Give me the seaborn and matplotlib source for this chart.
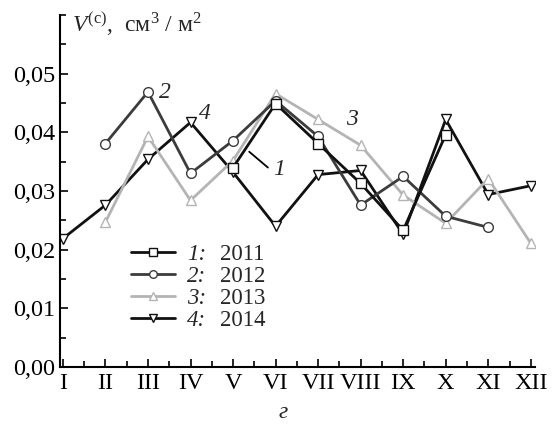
import numpy as np
import pandas as pd
import seaborn as sns
import matplotlib
matplotlib.use("Agg")
import matplotlib.pyplot as plt
from matplotlib.lines import Line2D
from matplotlib.ticker import FixedLocator, MultipleLocator, FuncFormatter

# month labels
months = ["I", "II", "III", "IV", "V", "VI", "VII", "VIII", "IX", "X", "XI", "XII"]

# series values (month number -> value)
m_2011 = [5, 6, 7, 8, 9, 10]
v_2011 = [0.0340, 0.0449, 0.0381, 0.0313, 0.0233, 0.0396]

m_2012 = [2, 3, 4, 5, 6, 7, 8, 9, 10, 11]
v_2012 = [0.0381, 0.0469, 0.0330, 0.0386, 0.0454, 0.0393, 0.0276, 0.0325, 0.0257, 0.0238]

m_2013 = [2, 3, 4, 5, 6, 7, 8, 9, 10, 11, 12]
v_2013 = [0.0247, 0.0393, 0.0284, 0.0352, 0.0466, 0.0422, 0.0378, 0.0293, 0.0245, 0.0321, 0.0211]

m_2014 = [1, 2, 3, 4, 5, 6, 7, 8, 9, 10, 11, 12]
v_2014 = [0.0219, 0.0276, 0.0354, 0.0417, 0.0332, 0.0240, 0.0328, 0.0335, 0.0226, 0.0422, 0.0294, 0.0309]

years = ["2011", "2012", "2013", "2014"]
curve_nums = ["1:", "2:", "3:", "4:"]

sns.set_style("ticks")
plt.rcParams['font.family'] = ['Liberation Serif', 'DejaVu Serif']
plt.rcParams['mathtext.fontset'] = 'custom'
plt.rcParams['mathtext.rm'] = 'Liberation Serif'
plt.rcParams['mathtext.it'] = 'Liberation Serif:italic'

BLACK = "#111111"
DARK = "#3c3c3c"
LIGHT = "#b4b4b4"

fig = plt.figure(figsize=(5.55, 4.3), dpi=100)
ax = fig.add_axes([0.108, 0.1465, 0.856, 0.8185])

series = [
    (m_2014, v_2014, "v", BLACK),
    (m_2013, v_2013, "^", LIGHT),
    (m_2012, v_2012, "o", DARK),
    (m_2011, v_2011, "s", BLACK),
]
for mm, vv, mk, col in series:
    df = pd.DataFrame({"month": mm, "value": vv})
    sns.lineplot(data=df, x="month", y="value", ax=ax, color=col, lw=2.0,
                 marker=mk, markersize=7, markerfacecolor="white",
                 markeredgecolor=col, markeredgewidth=1.0, legend=False)

ax.set_xlim(0.93, 12.1)
ax.set_ylim(0, 0.06)
ax.set_xlabel("")
ax.set_ylabel("")

ax.xaxis.set_major_locator(FixedLocator(range(1, 13)))
ax.set_xticklabels(months)
ax.xaxis.set_minor_locator(FixedLocator(np.arange(1.5, 12, 1)))
ax.yaxis.set_major_locator(FixedLocator([0, 0.01, 0.02, 0.03, 0.04, 0.05]))
ax.yaxis.set_minor_locator(MultipleLocator(0.005))
ax.yaxis.set_major_formatter(FuncFormatter(lambda v, p: f"{v:.2f}".replace(".", ",")))
ax.tick_params(which="both", direction="in", colors="black", labelsize=17.5, width=1.2)
ax.tick_params(which="major", length=6)
ax.tick_params(which="minor", length=4)
ax.tick_params(axis="x", pad=4)
sns.despine(ax=ax)
for s in ["left", "bottom"]:
    ax.spines[s].set_linewidth(1.5)
    ax.spines[s].set_color("black")

# curve labels
ax.text(3.40, 0.0468, "2", fontsize=17, style="italic", ha="center", va="center")
ax.text(4.34, 0.0432, "4", fontsize=17, style="italic", ha="center", va="center")
ax.text(7.80, 0.0422, "3", fontsize=17, style="italic", ha="center", va="center")
ax.text(6.08, 0.0337, "1", fontsize=17, style="italic", ha="center", va="center")
ax.plot([5.38, 5.82], [0.0367, 0.0340], color="black", lw=1.3)

ax.text(1.22, 0.0584, r"$V^{(\mathrm{с})}$,  см$^3$ / м$^2$", fontsize=17, ha="left", va="center")

handles = [
    Line2D([], [], color=BLACK, lw=2.0, marker="s", markersize=5.5, markerfacecolor="white", markeredgewidth=1.0),
    Line2D([], [], color=DARK, lw=2.0, marker="o", markersize=5.5, markerfacecolor="white", markeredgewidth=1.0),
    Line2D([], [], color=LIGHT, lw=2.0, marker="^", markersize=5.5, markerfacecolor="white", markeredgewidth=1.0),
    Line2D([], [], color=BLACK, lw=2.0, marker="v", markersize=5.5, markerfacecolor="white", markeredgewidth=1.0),
]
leg1 = ax.legend(handles, curve_nums, loc="upper left", bbox_to_anchor=(0.149, 0.35),
                 frameon=False, prop={"size": 16.5, "style": "italic"},
                 handlelength=1.95, handletextpad=0.5, labelspacing=0.05,
                 borderaxespad=0, borderpad=0, numpoints=1)
ax.add_artist(leg1)
blank = [Line2D([], [], lw=0) for _ in years]
ax.legend(blank, years, loc="upper left", bbox_to_anchor=(0.337, 0.35),
          frameon=False, prop={"size": 16.5}, handlelength=0, handletextpad=0,
          labelspacing=0.05, borderaxespad=0, borderpad=0)

fig.text(0.51, 0.04, "г", fontsize=17, style="italic", ha="center", va="center")

fig.savefig("out.png", dpi=100)
